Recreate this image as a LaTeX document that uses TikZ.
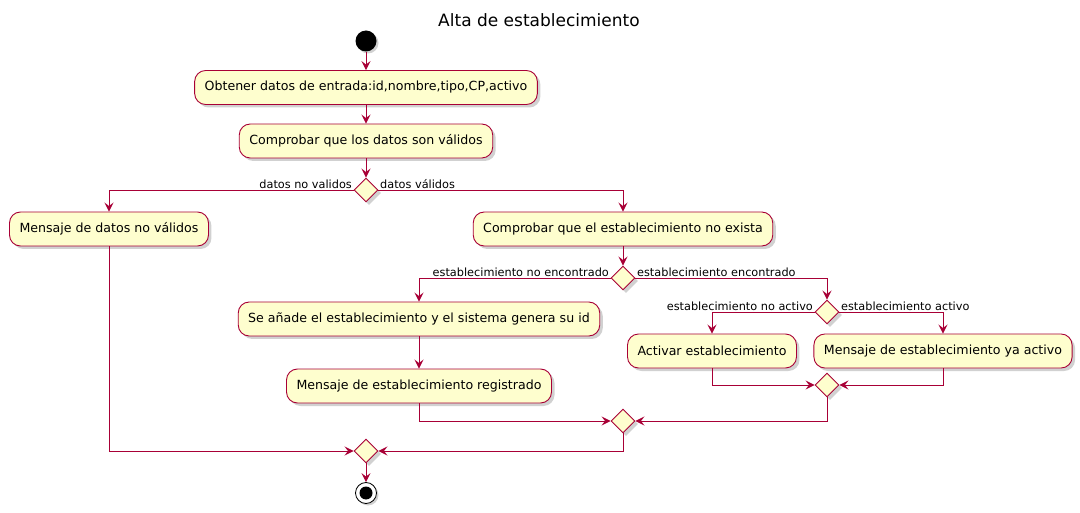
\documentclass[tikz,border=0pt]{standalone}
\usepackage{fontspec}
\setmainfont{DejaVu Sans}
\usetikzlibrary{positioning,shapes.geometric,shadows,arrows.meta}
\definecolor{umlred}{HTML}{A80036}
\definecolor{umlfill}{HTML}{FEFECE}
\tikzset{act node/.style={rectangle,rounded corners=11pt,draw=umlred,fill=umlfill,line width=0.9pt,
    minimum height=34pt,inner xsep=10pt,font=\fontsize{12.6}{15}\selectfont,
    drop shadow={shadow xshift=3pt,shadow yshift=-3pt,fill=black!30,opacity=0.6}},
  dec node/.style={diamond,draw=umlred,fill=umlfill,line width=0.9pt,minimum width=24pt,minimum height=24pt,
    inner sep=0pt,aspect=1,
    drop shadow={shadow xshift=3pt,shadow yshift=-3pt,fill=black!30,opacity=0.6}},
  start node/.style={circle,fill=black,minimum size=21pt,inner sep=0pt,
    drop shadow={shadow xshift=2pt,shadow yshift=-2pt,fill=black!30,opacity=0.6}},
  stop node/.style={circle,draw=black,fill=white,line width=0.8pt,minimum size=21pt,inner sep=0pt,
    path picture={\fill[black] (path picture bounding box.center) circle (6.5pt);},
    drop shadow={shadow xshift=2pt,shadow yshift=-2pt,fill=black!30,opacity=0.6}},
  guard/.style={inner sep=1.5pt,font=\fontsize{11.3}{13}\selectfont},
  flow/.style={draw=umlred,line width=0.9pt,-{Stealth[length=9pt,width=9pt,inset=3.5pt]}},
}

\begin{document}
\begin{tikzpicture}[x=1pt,y=-1pt]
		\useasboundingbox (0,0) rectangle (1080,513);
		\node[font=\fontsize{17}{20}\selectfont] (title) at (539,20) {Alta de establecimiento};
		
		\node[start node] (start) at (366,41) {};
		\node[act node] (b1) at (366,87.5) {Obtener datos de entrada:id,nombre,tipo,CP,activo};
		\node[act node] (b2) at (366,141) {Comprobar que los datos son válidos};
		\node[dec node] (d1) at (366,190) {};
		\node[act node] (b3) at (109,229) {Mensaje de datos no válidos};
		\node[act node] (b4) at (623,229) {Comprobar que el establecimiento no exista};
		\node[dec node] (d2) at (623,278) {};
		\node[act node] (b5) at (419,319) {Se añade el establecimiento y el sistema genera su id};
		\node[act node] (b6) at (419,386) {Mensaje de establecimiento registrado};
		\node[dec node] (d3) at (827,312) {};
		\node[act node] (b7) at (712,351) {Activar establecimiento};
		\node[act node] (b8) at (943,351) {Mensaje de establecimiento ya activo};
		\node[dec node] (m1) at (827,385) {};
		\node[dec node] (m2) at (623,421) {};
		\node[dec node] (m3) at (366,451) {};
		\node[stop node] (stop) at (366,493) {};
		
		% guards
		\node[guard,anchor=south east] (g1) at (d1.west) {datos no validos};
		\node[guard,anchor=south west] (g2) at (d1.east) {datos válidos};
		\node[guard,anchor=south east] (g3) at (d2.west) {establecimiento no encontrado};
		\node[guard,anchor=south west] (g4) at (d2.east) {establecimiento encontrado};
		\node[guard,anchor=south east] (g5) at (d3.west) {establecimiento no activo};
		\node[guard,anchor=south west] (g6) at (d3.east) {establecimiento activo};
		
		\path[flow] (start) -- (b1);
		\path[flow] (b1) -- (b2);
		\path[flow] (b2) -- (d1);
		\path[flow] (d1.west) -| (b3.north);
		\path[flow] (d1.east) -| (b4.north);
		\path[flow] (b4) -- (d2);
		\path[flow] (d2.west) -| (b5.north);
		\path[flow] (d2.east) -| (d3.north);
		\path[flow] (b5) -- (b6);
		\path[flow] (d3.west) -| (b7.north);
		\path[flow] (d3.east) -| (b8.north);
		\path[flow] (b7.south) |- (m1.west);
		\path[flow] (b8.south) |- (m1.east);
		\path[flow] (b6.south) |- (m2.west);
		\path[flow] (m1.south) |- (m2.east);
		\path[flow] (b3.south) |- (m3.west);
		\path[flow] (m2.south) |- (m3.east);
		\path[flow] (m3) -- (stop);
	\end{tikzpicture}
\end{document}
